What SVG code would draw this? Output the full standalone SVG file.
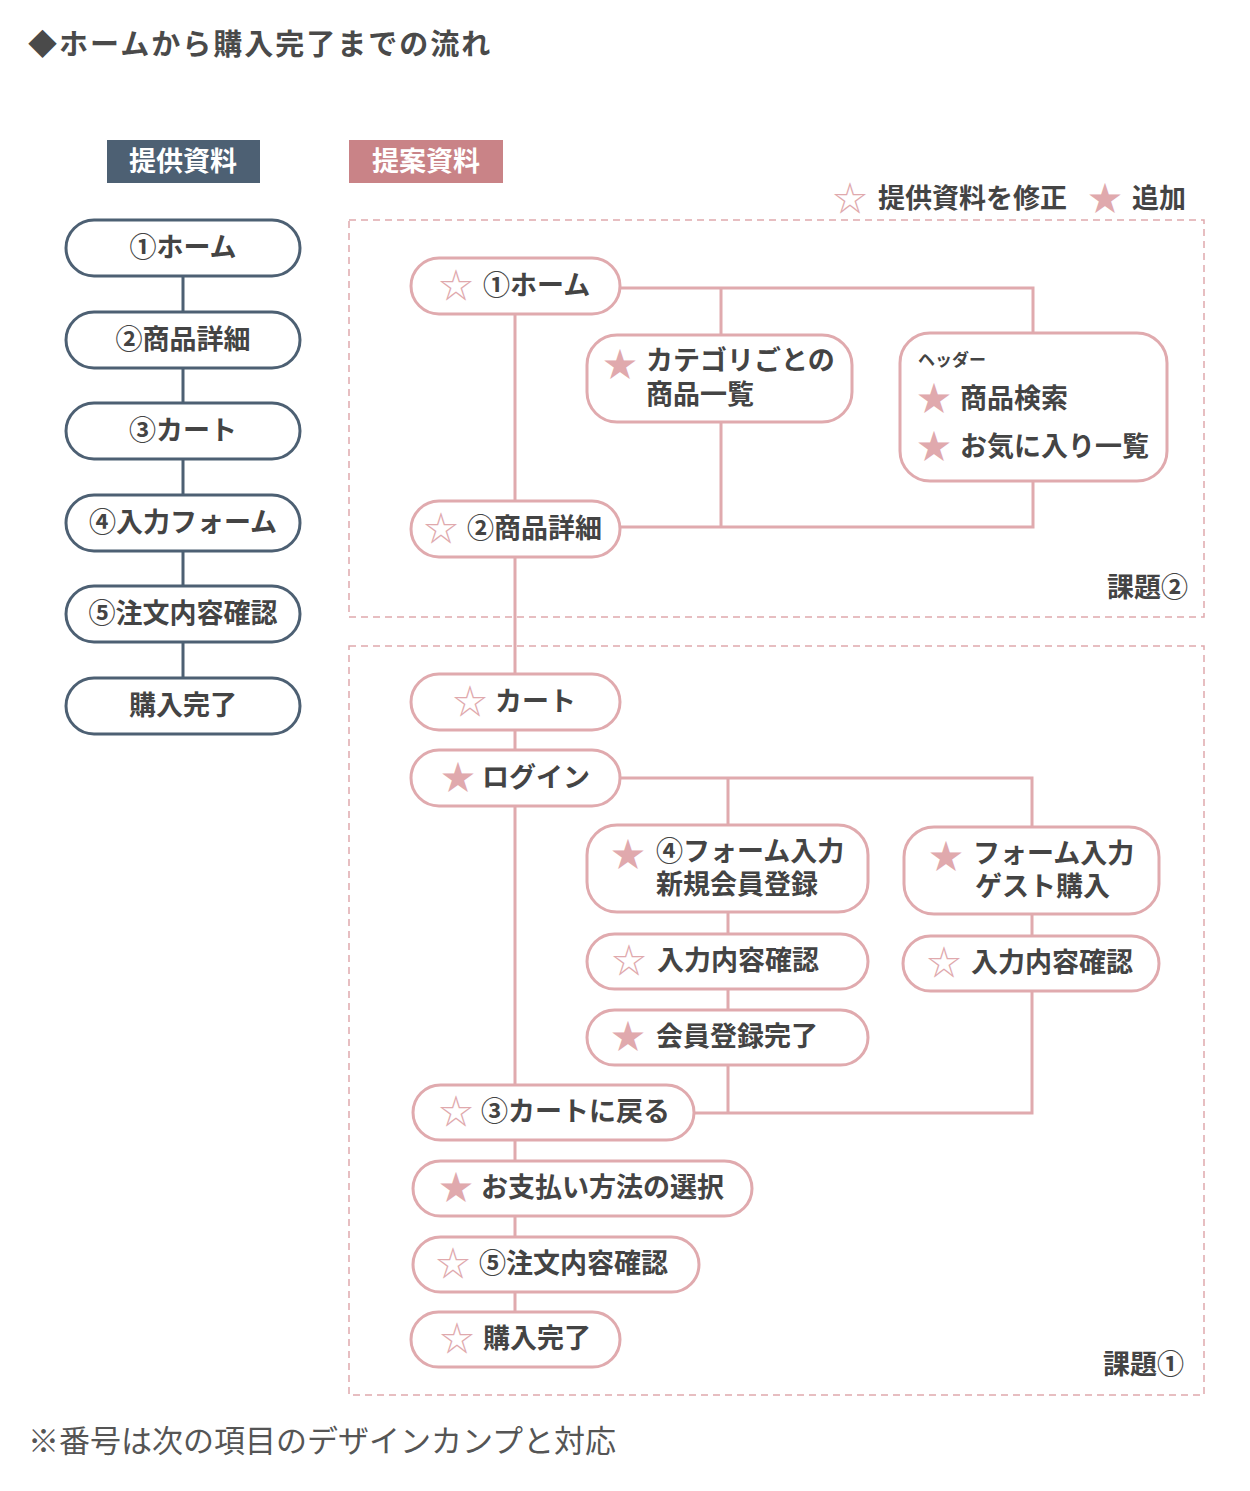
<svg xmlns="http://www.w3.org/2000/svg" width="1250" height="1491" viewBox="0 0 1250 1491">
<style>
text{font-family:"Noto Sans CJK JP","Liberation Sans",sans-serif;}
.title{font-size:29px;font-weight:bold;fill:#4a4a4a;letter-spacing:2px;}
.foot{font-size:31px;fill:#555;}
.lbl{font-size:27px;font-weight:bold;fill:#fff;}
.t{font-size:27px;font-weight:bold;fill:#444;}
.sm{font-size:17px;font-weight:bold;fill:#444;}
.st{font-size:34px;fill:#e0a9ad;text-anchor:middle;}
.lnode{fill:#fff;stroke:#4d6073;stroke-width:3;}
.rnode{fill:#fff;stroke:#e0aaae;stroke-width:3;}
.lline{stroke:#4d6073;stroke-width:3;fill:none;}
.rline{stroke:#e0aaae;stroke-width:3;fill:none;}
.dash{fill:none;stroke:#e0a9ad;stroke-width:1.5;stroke-dasharray:7 5;}
.mid{text-anchor:middle;}
</style>
<rect width="1250" height="1491" fill="#fff"/>
<text class="title" x="28" y="55">◆ホームから購入完了までの流れ</text>

<g id="label-left"><rect x="107" y="140" width="153" height="43" fill="#4d6073"/><text class="lbl mid" x="183" y="171">提供資料</text></g>
<g id="label-right"><rect x="349" y="140" width="154" height="43" fill="#c98387"/><text class="lbl mid" x="426" y="171">提案資料</text></g>

<g id="legend">
<text class="st" x="850" y="211">☆</text><text class="t" x="878" y="208">提供資料を修正</text>
<text class="st" x="1105" y="211">★</text><text class="t" x="1132" y="208">追加</text>
</g>

<g id="groups">
<rect class="dash" x="349" y="220" width="855" height="397"/>
<text class="t" x="1107" y="597">課題②</text>
<rect class="dash" x="349" y="646" width="855" height="749"/>
<text class="t" x="1103" y="1374">課題①</text>
</g>

<g id="connectors">
<path class="lline" d="M183 276V312M183 368V403M183 459V495M183 551V586M183 642V678"/>
<path class="rline" d="M515 314V501M515 557V674M620 288H1033V333M721 288V335M721 422V527M620 527H1033V481"/>
<path class="rline" d="M515 730V750M515 806V1085M620 778H1032V827M728 778V825M728 912V934M728 989V1010M728 1065V1113M1032 914V936M1032 991V1113H694"/>
<path class="rline" d="M515 1140V1161M515 1216V1237M515 1292V1312"/>
</g>

<g id="l1"><rect class="lnode" x="66" y="220" width="234" height="56" rx="28"/><text class="t mid" x="183" y="257">①ホーム</text></g>
<g id="l2"><rect class="lnode" x="66" y="312" width="234" height="56" rx="28"/><text class="t mid" x="183" y="349">②商品詳細</text></g>
<g id="l3"><rect class="lnode" x="66" y="403" width="234" height="56" rx="28"/><text class="t mid" x="183" y="440">③カート</text></g>
<g id="l4"><rect class="lnode" x="66" y="495" width="234" height="56" rx="28"/><text class="t mid" x="183" y="532">④入力フォーム</text></g>
<g id="l5"><rect class="lnode" x="66" y="586" width="234" height="56" rx="28"/><text class="t mid" x="183" y="623">⑤注文内容確認</text></g>
<g id="l6"><rect class="lnode" x="66" y="678" width="234" height="56" rx="28"/><text class="t mid" x="183" y="715">購入完了</text></g>

<g id="r-home"><rect class="rnode" x="411" y="258" width="209" height="56" rx="28"/><text class="st" x="456" y="298">☆</text><text class="t" x="483" y="295">①ホーム</text></g>
<g id="r-category"><rect class="rnode" x="587" y="335" width="265" height="87" rx="30"/><text class="st" x="620" y="377">★</text><text class="t"><tspan x="646" y="370">カテゴリごとの</tspan><tspan x="646" y="404">商品一覧</tspan></text></g>
<g id="r-header"><rect class="rnode" x="900" y="333" width="267" height="148" rx="30"/><text class="sm" x="918" y="366">ヘッダー</text><text class="st" x="934" y="411">★</text><text class="t" x="960" y="408">商品検索</text><text class="st" x="934" y="459">★</text><text class="t" x="960" y="456">お気に入り一覧</text></g>
<g id="r-detail"><rect class="rnode" x="411" y="501" width="209" height="56" rx="28"/><text class="st" x="441" y="541">☆</text><text class="t" x="467" y="538">②商品詳細</text></g>

<g id="r-cart"><rect class="rnode" x="411" y="674" width="209" height="56" rx="28"/><text class="st" x="470" y="714">☆</text><text class="t" x="495" y="711">カート</text></g>
<g id="r-login"><rect class="rnode" x="411" y="750" width="209" height="56" rx="28"/><text class="st" x="458" y="790">★</text><text class="t" x="482" y="787">ログイン</text></g>
<g id="r-member-form"><rect class="rnode" x="587" y="825" width="281" height="87" rx="30"/><text class="st" x="628" y="867">★</text><text class="t"><tspan x="656" y="861">④フォーム入力</tspan><tspan x="656" y="894">新規会員登録</tspan></text></g>
<g id="r-guest-form"><rect class="rnode" x="904" y="827" width="255" height="87" rx="30"/><text class="st" x="946" y="869">★</text><text class="t"><tspan x="973" y="863">フォーム入力</tspan><tspan x="975" y="896">ゲスト購入</tspan></text></g>
<g id="r-confirm-l"><rect class="rnode" x="587" y="934" width="281" height="55" rx="27.5"/><text class="st" x="629" y="973">☆</text><text class="t" x="657" y="970">入力内容確認</text></g>
<g id="r-confirm-r"><rect class="rnode" x="903" y="936" width="256" height="55" rx="27.5"/><text class="st" x="944" y="975">☆</text><text class="t" x="971" y="972">入力内容確認</text></g>
<g id="r-member-done"><rect class="rnode" x="587" y="1010" width="281" height="55" rx="27.5"/><text class="st" x="628" y="1049">★</text><text class="t" x="656" y="1046">会員登録完了</text></g>
<g id="r-back-cart"><rect class="rnode" x="413" y="1085" width="281" height="55" rx="27.5"/><text class="st" x="456" y="1124">☆</text><text class="t" x="481" y="1121">③カートに戻る</text></g>
<g id="r-payment"><rect class="rnode" x="413" y="1161" width="339" height="55" rx="27.5"/><text class="st" x="456" y="1200">★</text><text class="t" x="481" y="1197">お支払い方法の選択</text></g>
<g id="r-order-confirm"><rect class="rnode" x="413" y="1237" width="286" height="55" rx="27.5"/><text class="st" x="453" y="1276">☆</text><text class="t" x="479" y="1273">⑤注文内容確認</text></g>
<g id="r-done"><rect class="rnode" x="411" y="1312" width="209" height="55" rx="27.5"/><text class="st" x="457" y="1351">☆</text><text class="t" x="483" y="1348">購入完了</text></g>

<text class="foot" x="28" y="1452">※番号は次の項目のデザインカンプと対応</text>
</svg>
